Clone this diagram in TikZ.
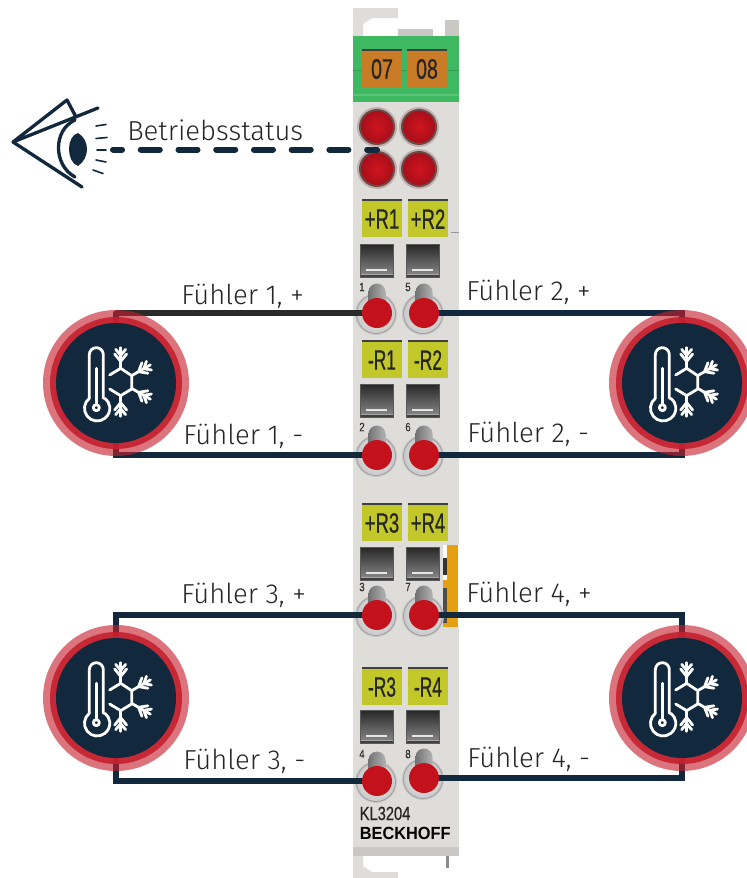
\documentclass[tikz,border=0pt]{standalone}
\usepackage{fontspec}
\setmainfont{Fira Sans Light}
\newfontfamily\modfont{Liberation Sans}
\newfontfamily\modheavy[FakeBold=0.8]{Liberation Sans}
\usetikzlibrary{backgrounds}
\definecolor{navy}{HTML}{12283C}
\definecolor{wireblack}{HTML}{2A2A2A}
\definecolor{sred}{HTML}{C5202E}
\definecolor{dotred}{HTML}{C4121C}
\definecolor{body}{HTML}{DEDDDA}
\definecolor{bodydark}{HTML}{C9C8C5}
\definecolor{mgreen}{HTML}{3FB862}
\definecolor{morange}{HTML}{C97B25}
\definecolor{myellow}{HTML}{C2C82A}
\definecolor{amber}{HTML}{E59F12}
\definecolor{bezelo}{HTML}{BFB0AD}
\definecolor{bezeli}{HTML}{6D4A48}
\definecolor{ledin}{HTML}{D0141F}
\definecolor{ledout}{HTML}{A80F1A}
\pgfdeclarelayer{base}
\pgfdeclarelayer{wires}
\pgfsetlayers{base,wires,main}
\newcommand{\squeeze}[2]{\scalebox{#1}[1]{#2}}
\tikzset{
  x=0.75pt,y=-0.75pt,
  wire/.style={draw=navy,line width=3.9pt,line join=miter,line cap=round},
  wireblk/.style={draw=wireblack,line width=3.9pt,line cap=butt},
  lbl/.style={font=\fontsize{20.6pt}{24pt}\selectfont,text=black!85,inner sep=0pt,anchor=base west},
  enddot/.style={circle,fill=dotred,minimum size=22.5pt,inner sep=0pt},
  sensor/.style={circle,fill=navy,minimum size=90pt,inner sep=0pt},
  icon/.style={draw=white,line width=2.1pt,line cap=round,line join=round},
  modtext/.style={font=\modheavy\fontsize{21pt}{24pt}\selectfont,text=black!85,inner sep=0pt},
  led/.style={circle,inner color=ledin,outer color=ledout,minimum size=24pt,inner sep=0pt},
  eyeline/.style={draw=navy,line width=2.5pt,line cap=round,line join=round},
  ray/.style={draw=navy,line width=1.2pt,line cap=round},
  numtext/.style={font=\modheavy\fontsize{9pt}{10pt}\selectfont,text=black!80,inner sep=0pt},
}
\newcommand{\tag}[6]{%
  \fill[#5] (#2,#3) rectangle ++(40,38);
  \fill[black!75] (#2,#3) rectangle ++(40,1.6);
  \node[modtext] (#1) at (#2+20,#3+20) {\squeeze{#6}{#4}};}
\newcommand{\window}[2]{%
  \shade[top color=black!85,bottom color=black!45] (#1,#2) rectangle ++(33,33);
  \fill[black!10] (#1+6,#2+25) rectangle ++(21,2.2);
  \fill[black!35] (#1,#2+30) rectangle ++(33,1);
  \fill[black!75] (#1,#2+31) rectangle ++(33,2);
  \draw[black!65,line width=.4pt] (#1,#2) rectangle ++(33,33);}
\newcommand{\pin}[2]{%
  \shade[inner color=black!8,outer color=black!22] (#1-1,#2+1) circle [radius=21];
  \draw[black!38,line width=.6pt] (#1-1,#2+1) circle [radius=19.5];
  \shade[left color=black!55,right color=black!30] (#1-8.5,#2-21) arc (180:360:8.5) -- (#1+8.5,#2) -- (#1-8.5,#2) -- cycle;}
\newcommand{\sensoricon}[1]{%
  \begin{scope}[shift={(#1)},shift={(-46,-48)},x=0.25pt,y=-0.25pt]
    \draw[icon] (58,190) -- (58,59) arc (180:360:21) -- (100,190);
    \draw[icon] (58,190) arc (232:-52:38);
    \draw[icon] (79,100) -- (79,205);
    \draw[icon] (79,218) circle [radius=9];
    \draw[icon] (119,120) -- (152,100) -- (185,122) -- (185,162) -- (152,182) -- (119,162);
    \foreach \a in {90,30,-30,-90}{
      \begin{scope}[shift={(152,141)},rotate=-\a]
        \draw[icon] (41,0) -- (103,0);
        \draw[icon] (62,0) -- ++(22,-18) (62,0) -- ++(22,18);
        \draw[icon] (80,0) -- ++(18,-15) (80,0) -- ++(18,15);
      \end{scope}}
  \end{scope}}
\begin{document}
\begin{tikzpicture}
\useasboundingbox (0,0) rectangle (746,878);

\begin{pgfonlayer}{base}
  \fill[white] (0,0) rectangle (746,878);
  % module body
  \fill[body] (353,8) -- (398,8) -- (398,18) -- (372,18) -- (363,24) -- (363,36) -- (353,36) -- cycle;
  \fill[bodydark] (398,29) rectangle (433,36);
  \fill[bodydark] (445,20) rectangle (459,36);
  \fill[body] (353,102) rectangle (459,847);
  \fill[bodydark] (353,847) rectangle (459,856);
  \fill[body] (353,856) -- (363,856) -- (363,866) -- (372,872) -- (398,872) -- (398,878) -- (353,878) -- cycle;
  \fill[bodydark!70!black] (446,856) rectangle (449,868);
  \fill[mgreen] (353,36) rectangle (459,102);
  \fill[mgreen!85!black] (353,70) rectangle (459,70.8);
  \fill[mgreen!85!white] (353,94) rectangle (459,95.5);
  % orange side latch
  \fill[white] (443,545) rectangle (459,627);
  \fill[amber] (447,545) rectangle (458,627);
  \fill[amber] (443,580) rectangle (447,627);
  \fill[black!80] (443,558) rectangle (447,575);
  \fill[black!70] (443,588) rectangle (447,623);
  % tag tabs
  \draw[black!12,line width=.6pt] (357,340) -- (357,377) (452,340) -- (452,377) (357,667) -- (357,703) (452,667) -- (452,703) (452,199) -- (452,232);
  \draw[black!40,line width=.6pt] (451,232) -- (459,232);
  % windows
  \foreach \wy in {244,384,547,710}{\window{360}{\wy}\window{406}{\wy}}
  % LED bezels
  \foreach \lx/\ly in {377/127,419/127,377/169,419/169}{
    \fill[bezelo] (\lx,\ly) circle [radius=20];
    \fill[bezeli] (\lx,\ly) circle [radius=18];}
  % pins
  \pin{377}{313}\pin{424}{313}\pin{377}{455}\pin{424}{455}
  \pin{377}{615}\pin{424}{615}\pin{377}{781}\pin{424}{778}
\end{pgfonlayer}

% tags
\tag{t07}{362}{49}{07}{morange}{.7}
\tag{t08}{407}{49}{08}{morange}{.7}
\tag{tr1}{362}{199}{+R1}{myellow}{.66}
\tag{tr2}{408}{199}{+R2}{myellow}{.66}
\tag{tm1}{362}{340}{-R1}{myellow}{.62}
\tag{tm2}{408}{340}{-R2}{myellow}{.62}
\tag{tr3}{362}{503}{+R3}{myellow}{.66}
\tag{tr4}{408}{503}{+R4}{myellow}{.66}
\tag{tm3}{362}{667}{-R3}{myellow}{.62}
\tag{tm4}{408}{667}{-R4}{myellow}{.62}

% terminal numbers
\node[numtext] (n1) at (362,287) {\squeeze{.8}{1}};
\node[numtext] (n5) at (408,287) {\squeeze{.8}{5}};
\node[numtext] (n2) at (362,427) {\squeeze{.8}{2}};
\node[numtext] (n6) at (408,427) {\squeeze{.8}{6}};
\node[numtext] (n3) at (362,587) {\squeeze{.8}{3}};
\node[numtext] (n7) at (408,587) {\squeeze{.8}{7}};
\node[numtext] (n4) at (362,754) {\squeeze{.8}{4}};
\node[numtext] (n8) at (408,754) {\squeeze{.8}{8}};

% brand
\node[font=\modheavy\fontsize{14.3pt}{16pt}\selectfont,text=black!85,inner sep=0pt,anchor=base west] (type) at (359.5,820) {\squeeze{.77}{KL3204}};
\node[font=\modfont\bfseries\fontsize{13.2pt}{16pt}\selectfont,text=black,inner sep=0pt,anchor=base west] (brand) at (359.5,839) {\squeeze{.93}{BECKHOFF}};

% LEDs
\node[led] (l1) at (377,127) {};
\node[led] (l2) at (419,127) {};
\node[led] (l3) at (377,169) {};
\node[led] (l4) at (419,169) {};

% terminal end dots
\node[enddot] (d1) at (377,313) {};
\node[enddot] (d5) at (424,313) {};
\node[enddot] (d2) at (377,455) {};
\node[enddot] (d6) at (424,455) {};
\node[enddot] (d3) at (377,615) {};
\node[enddot] (d7) at (424,615) {};
\node[enddot] (d4) at (377,781) {};
\node[enddot] (d8) at (424,778) {};

% corners of the wires
\coordinate (c1a) at (116,313); \coordinate (c1b) at (116,455);
\coordinate (c2a) at (682,313); \coordinate (c2b) at (682,455);
\coordinate (c3a) at (116,615); \coordinate (c3b) at (116,781);
\coordinate (c4a) at (682,615); \coordinate (c4b) at (682,778);

\begin{pgfonlayer}{wires}
  \draw[wire] (c1a) -- (c1b) -- (d2.center);
  \draw[wireblk] (d1.center) -- (c1a);
  \draw[wire] (d5.center) -- (c2a) -- (c2b) -- (d6.center);
  \draw[wire] (d3.center) -- (c3a) -- (c3b) -- (d4.center);
  \draw[wire] (d7.center) -- (c4a) -- (c4b) -- (d8.center);
\end{pgfonlayer}

% sensors
\foreach \sn/\sx/\sy in {s1/116/383,s2/682/383,s3/116/698,s4/682/698}{
  \fill[sred,opacity=.62] (\sx,\sy) circle [radius=73];
  \fill[sred,opacity=.9] (\sx,\sy) circle [radius=66];
  \node[sensor] (\sn) at (\sx,\sy) {};
  \sensoricon{\sx,\sy}
}

% labels
\node[lbl] (lb) at (127,140) {Betriebsstatus};
\node[lbl] (f1p) at (181,304) {Fühler 1, +};
\node[lbl] (f2p) at (466,300) {Fühler 2, +};
\node[lbl] (f1m) at (183,444) {Fühler 1, -};
\node[lbl] (f2m) at (467,442) {Fühler 2, -};
\node[lbl] (f3p) at (181,603) {Fühler 3, +};
\node[lbl] (f4p) at (466,602) {Fühler 4, +};
\node[lbl] (f3m) at (183,769) {Fühler 3, -};
\node[lbl] (f4m) at (467,767) {Fühler 4, -};

% eye
\coordinate (eye) at (113,149.5);
\coordinate (ledend) at (377,149.5);
\draw[eyeline] (98,108) -- (13,142) -- (67,100) -- (76,117);
\draw[eyeline] (13,142) -- (82,187);
\draw[eyeline] (75,120) .. controls (53,130) and (53,165) .. (75,177);
\fill[navy] (78,133) .. controls (66,136) and (66,162) .. (78,166) .. controls (90,158) and (90,140) .. (78,133) -- cycle;
\draw[ray] (96,126) -- (106,124.5);
\draw[ray] (96,138.5) -- (107,137.5);
\draw[ray] (97,150) -- (106,150);
\draw[ray] (96,160) -- (106,162);
\draw[ray] (93,170) -- (103,173.5);
\draw[draw=navy,line width=4.5pt,line cap=round,dash pattern=on 14.3pt off 14pt,dash phase=7.5pt] (eye) -- (ledend);
\end{tikzpicture}
\end{document}
